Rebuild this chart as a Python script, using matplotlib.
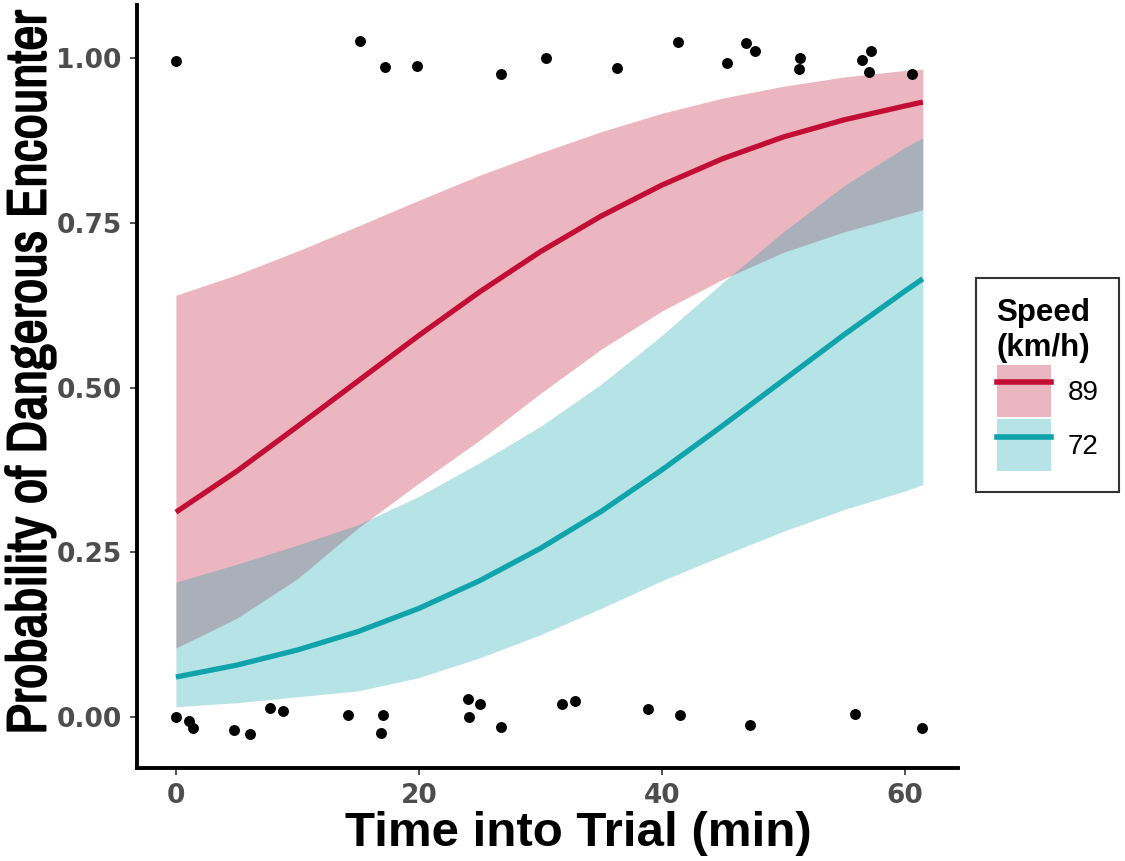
import matplotlib
matplotlib.use("Agg")
from matplotlib import pyplot as plt
from matplotlib import patheffects
from matplotlib.patches import Patch
from matplotlib.lines import Line2D

# observed encounters (time, jittered 0/1 outcome)
top_time = [0.05, 15.2, 17.25, 19.86, 26.78, 30.49, 36.36, 41.37, 45.4, 46.9, 47.7, 51.4, 51.3, 56.5, 57.2, 57.1, 60.6]
top_y = [0.996, 1.026, 0.986, 0.988, 0.976, 1.0, 0.984, 1.024, 0.992, 1.023, 1.011, 0.9995, 0.983, 0.997, 1.01, 0.979, 0.976]
bottom_time = [0.0, 1.05, 1.44, 4.75, 6.14, 7.71, 8.84, 14.16, 17.03, 16.86, 24.08, 25.0, 24.13, 26.78, 31.8, 32.9, 38.9, 41.5, 47.3, 55.9, 61.4]
bottom_y = [0.0, -0.006, -0.016, -0.019, -0.025, 0.014, 0.009, 0.004, 0.004, -0.024, 0.028, 0.02, 0.0, -0.015, 0.02, 0.025, 0.013, 0.004, -0.012, 0.005, -0.017]

# fitted curves with confidence bands
t = [0, 5, 10, 15, 20, 25, 30, 35, 40, 45, 50, 55, 60, 61.5]
fit_89 = [0.311, 0.373, 0.441, 0.510, 0.579, 0.645, 0.706, 0.760, 0.807, 0.847, 0.880, 0.906, 0.927, 0.933]
low_89 = [0.105, 0.150, 0.210, 0.287, 0.355, 0.420, 0.491, 0.558, 0.616, 0.664, 0.705, 0.736, 0.762, 0.770]
high_89 = [0.640, 0.671, 0.707, 0.745, 0.784, 0.822, 0.856, 0.888, 0.916, 0.939, 0.957, 0.971, 0.981, 0.983]
fit_72 = [0.061, 0.079, 0.102, 0.130, 0.165, 0.207, 0.256, 0.312, 0.375, 0.442, 0.511, 0.580, 0.646, 0.665]
low_72 = [0.016, 0.022, 0.031, 0.040, 0.060, 0.090, 0.125, 0.165, 0.207, 0.245, 0.282, 0.315, 0.343, 0.353]
high_72 = [0.205, 0.232, 0.261, 0.292, 0.335, 0.386, 0.441, 0.505, 0.579, 0.659, 0.736, 0.806, 0.864, 0.879]

red = "#C20E34"
teal = "#0FA3AC"

fig = plt.figure(figsize=(11.25, 8.61), dpi=100)
ax = fig.add_axes([0.1218, 0.108, 0.7298, 0.886])

ax.fill_between(t, low_89, high_89, color=red, alpha=0.3, linewidth=0)
ax.fill_between(t, low_72, high_72, color=teal, alpha=0.3, linewidth=0)
ax.plot(t, fit_89, color=red, linewidth=3.8, solid_capstyle="butt")
ax.plot(t, fit_72, color=teal, linewidth=3.8, solid_capstyle="butt")

ax.scatter(top_time, top_y, s=62, color="black", zorder=5, linewidths=0)
ax.scatter(bottom_time, bottom_y, s=62, color="black", zorder=5, linewidths=0)

ax.set_xlim(-3.2, 64.4)
ax.set_ylim(-0.077, 1.08)
ax.set_xticks([0, 20, 40, 60])
ax.set_yticks([0, 0.25, 0.5, 0.75, 1.0])
ax.set_yticklabels(["0.00", "0.25", "0.50", "0.75", "1.00"])

for s in ["top", "right"]:
    ax.spines[s].set_visible(False)
for s in ["left", "bottom"]:
    ax.spines[s].set_linewidth(2.8)
    ax.spines[s].set_color("black")

ax.tick_params(axis="both", length=5, width=1.2, color="#333333", labelcolor="#4D4D4D", pad=6)
for lab in ax.get_xticklabels() + ax.get_yticklabels():
    lab.set_fontsize(19)
    lab.set_fontweight("bold")
    lab.set_family("DejaVu Sans")

ax.set_xlabel("Time into Trial (min)", fontsize=35.5, fontweight="bold", family="Liberation Sans")
ax.xaxis.set_label_coords(0.537, -0.056)
ylab = ax.set_ylabel("Probability of Dangerous Encounter", fontsize=40,
                     family=["Archivo Narrow", "Liberation Sans"])
ylab.set_path_effects([patheffects.withStroke(linewidth=1.3, foreground="black")])
ax.yaxis.set_label_coords(-0.098, 0.519)

handles = [
    (Patch(facecolor=red, alpha=0.3, linewidth=0), Line2D([], [], color=red, linewidth=4)),
    (Patch(facecolor=teal, alpha=0.3, linewidth=0), Line2D([], [], color=teal, linewidth=4)),
]
leg = fig.legend(handles, ["89", "72"], title="Speed\n(km/h)", loc="center left",
                 bbox_to_anchor=(0.855, 0.553), frameon=True, fancybox=False,
                 edgecolor="black", handlelength=1.95, handleheight=2.5,
                 labelspacing=0.08, handletextpad=0.6, borderpad=0.75,
                 prop={"family": "Liberation Sans", "size": 20})
leg.get_frame().set_linewidth(1.5)
leg.get_title().set_fontweight("bold")
leg.get_title().set_fontsize(22.5)
leg.get_title().set_family("Liberation Sans")
leg._legend_box.align = "left"

fig.savefig("out.png", dpi=100)
